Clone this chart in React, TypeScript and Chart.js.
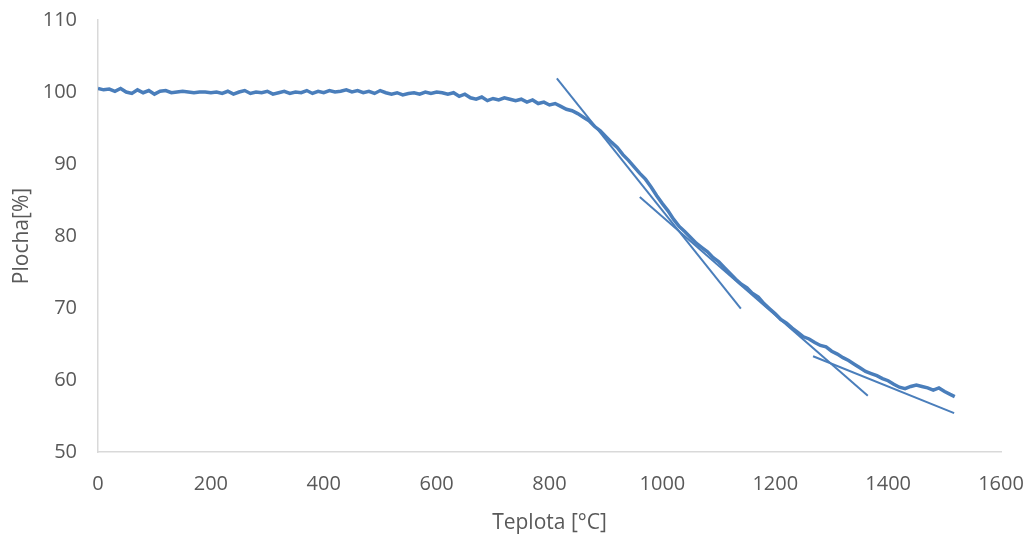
import React, { useEffect, useRef } from "react";
import { Chart, registerables } from "chart.js";

Chart.register(...registerables);

const temperature = [
  0, 10, 20, 30, 40, 50, 60, 70, 80, 90, 100, 110, 120, 130, 140, 150, 160, 170, 180, 190,
  200, 210, 220, 230, 240, 250, 260, 270, 280, 290, 300, 310, 320, 330, 340, 350, 360, 370, 380, 390,
  400, 410, 420, 430, 440, 450, 460, 470, 480, 490, 500, 510, 520, 530, 540, 550, 560, 570, 580, 590,
  600, 610, 620, 630, 640, 650, 660, 670, 680, 690, 700, 710, 720, 730, 740, 750, 760, 770, 780, 790,
  800, 810, 820, 830, 840, 850, 860, 870, 880, 890, 900, 910, 920, 930, 940, 950, 960, 970, 980, 990,
  1000, 1010, 1020, 1030, 1040, 1050, 1060, 1070, 1080, 1090, 1100, 1110, 1120, 1130, 1140, 1150, 1160, 1170, 1180, 1190,
  1200, 1210, 1220, 1230, 1240, 1250, 1260, 1270, 1280, 1290, 1300, 1310, 1320, 1330, 1340, 1350, 1360, 1370, 1380, 1390,
  1400, 1410, 1420, 1430, 1440, 1450, 1460, 1470, 1480, 1490, 1500, 1510, 1518,
];

const area = [
  100.5, 100.3, 100.4, 100.1, 100.5, 100.0, 99.8, 100.3, 99.9, 100.2, 99.7, 100.1, 100.2, 99.9, 100.0, 100.1, 100.0, 99.9, 100.0, 100.0,
  99.9, 100.0, 99.8, 100.1, 99.7, 100.0, 100.2, 99.8, 100.0, 99.9, 100.1, 99.7, 99.9, 100.1, 99.8, 100.0, 99.9, 100.2, 99.8, 100.1,
  99.9, 100.2, 100.0, 100.1, 100.3, 100.0, 100.2, 99.9, 100.1, 99.8, 100.2, 99.9, 99.7, 99.9, 99.6, 99.8, 99.9, 99.7, 100.0, 99.8,
  100.0, 99.9, 99.7, 99.9, 99.4, 99.7, 99.2, 99.0, 99.3, 98.8, 99.1, 98.9, 99.2, 99.0, 98.8, 99.0, 98.6, 98.9, 98.4, 98.6,
  98.2, 98.4, 98.0, 97.6, 97.4, 97.0, 96.5, 96.0, 95.2, 94.6, 93.8, 93.0, 92.3, 91.3, 90.5, 89.6, 88.7, 87.9, 86.8, 85.6,
  84.5, 83.5, 82.3, 81.3, 80.6, 79.8, 79.0, 78.4, 77.8, 77.0, 76.4, 75.6, 74.8, 74.0, 73.3, 72.8, 72.0, 71.5, 70.6, 69.9,
  69.2, 68.4, 67.9, 67.2, 66.6, 66.0, 65.7, 65.2, 64.8, 64.6, 64.0, 63.6, 63.1, 62.7, 62.2, 61.7, 61.2, 60.9, 60.6, 60.2,
  59.9, 59.4, 59.0, 58.8, 59.1, 59.3, 59.1, 58.9, 58.6, 58.9, 58.4, 58.0, 57.7,
];

const tangent1X = [813, 1139];
const tangent1Y = [101.9, 69.9];
const tangent2X = [960, 1364];
const tangent2Y = [85.4, 57.8];
const tangent3X = [1267, 1517];
const tangent3Y = [63.3, 55.4];

const xTicks = [0, 200, 400, 600, 800, 1000, 1200, 1400, 1600];
const yTicks = [50, 60, 70, 80, 90, 100, 110];

const xTitle = "Teplota [°C]";
const yTitle = "Plocha[%]";

const BLUE = "#4a7ebb";
const FONT = "'Open Sans', sans-serif";

function pts(xs: number[], ys: number[]) {
  return xs.map((x, i) => ({ x, y: ys[i] }));
}

export default function App() {
  const ref = useRef<HTMLCanvasElement | null>(null);

  useEffect(() => {
    document.body.style.margin = "0";
    if (!ref.current) return;
    const lineDs = (xs: number[], ys: number[], w: number) => ({
      data: pts(xs, ys),
      showLine: true,
      borderColor: BLUE,
      backgroundColor: BLUE,
      borderWidth: w,
      pointRadius: 0,
      pointHoverRadius: 0,
      tension: 0,
      fill: false,
    });
    const chart = new Chart(ref.current, {
      type: "scatter",
      data: {
        datasets: [
          lineDs(temperature, area, 3.5),
          lineDs(tangent1X, tangent1Y, 2),
          lineDs(tangent2X, tangent2Y, 2),
          lineDs(tangent3X, tangent3Y, 2),
        ],
      },
      options: {
        animation: false,
        responsive: false,
        maintainAspectRatio: false,
        layout: { padding: { left: 0, top: 20, right: 29, bottom: 0 } },
        plugins: { legend: { display: false }, tooltip: { enabled: false } },
        scales: {
          x: {
            type: "linear",
            min: 0,
            max: 1600,
            afterBuildTicks: (s: any) => {
              s.ticks = xTicks.map((v) => ({ value: v }));
            },
            afterFit: (s: any) => {
              s.height = 84;
              s.paddingLeft = 0;
              s.paddingRight = 0;
            },
            grid: { display: false, drawTicks: false },
            border: { display: true, color: "#d9d9d9", width: 1.5 },
            ticks: {
              padding: 20,
              color: "#595959",
              font: { family: FONT, size: 20 },
              callback: (v: any) => String(v),
            },
            title: {
              display: true,
              text: xTitle,
              color: "#595959",
              font: { family: FONT, size: 21 },
              padding: { top: 4, bottom: 0 },
            },
          },
          y: {
            type: "linear",
            min: 50,
            max: 110,
            afterBuildTicks: (s: any) => {
              s.ticks = yTicks.map((v) => ({ value: v }));
            },
            afterFit: (s: any) => {
              s.width = 98;
              s.paddingTop = 0;
              s.paddingBottom = 0;
            },
            grid: { display: false, drawTicks: false },
            border: { display: true, color: "#d9d9d9", width: 1.5 },
            ticks: {
              padding: 21,
              color: "#595959",
              font: { family: FONT, size: 20 },
              callback: (v: any) => String(v),
            },
            title: {
              display: true,
              text: yTitle,
              color: "#595959",
              font: { family: FONT, size: 21 },
              padding: { top: 9, bottom: 0 },
            },
          },
        },
      },
    } as any);
    return () => chart.destroy();
  }, []);

  return (
    <div style={{ width: 1030, height: 536, background: "#fff" }}>
      <canvas ref={ref} width={1030} height={536} style={{ display: "block" }} />
    </div>
  );
}
